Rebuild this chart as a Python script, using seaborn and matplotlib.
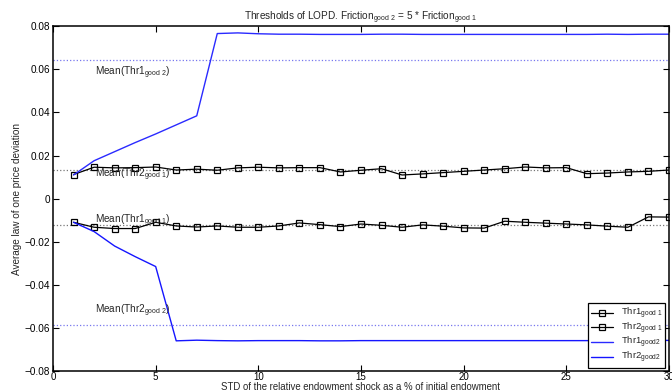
import numpy as np
import pandas as pd
import matplotlib
matplotlib.use('Agg')
import matplotlib.pyplot as plt
import seaborn as sns
from matplotlib.ticker import FuncFormatter

# ---------------- data ----------------
std_pct = list(range(1, 31))

thr1_good1 = [-0.0109, -0.0132, -0.0138, -0.0138, -0.0109, -0.0126, -0.0131, -0.0126, -0.0132, -0.0132,
              -0.0126, -0.0112, -0.0120, -0.0129, -0.0117, -0.0123, -0.0132, -0.0121, -0.0127, -0.0135,
              -0.0136, -0.0104, -0.0109, -0.0113, -0.0117, -0.0121, -0.0127, -0.0132, -0.0084, -0.0085]

thr2_good1 = [0.0112, 0.0146, 0.0143, 0.0144, 0.0147, 0.0133, 0.0137, 0.0132, 0.0143, 0.0146,
              0.0143, 0.0144, 0.0144, 0.0124, 0.0132, 0.0139, 0.0110, 0.0115, 0.0121, 0.0127,
              0.0133, 0.0139, 0.0147, 0.0143, 0.0144, 0.0116, 0.0119, 0.0124, 0.0127, 0.0133]

thr1_good2 = [0.0110, 0.0176, 0.0218, 0.0260, 0.0300, 0.0342, 0.0384, 0.0765, 0.0768, 0.0764,
              0.0762, 0.0762, 0.0761, 0.0761, 0.0761, 0.0762, 0.0762, 0.0761, 0.0761, 0.0761,
              0.0761, 0.0761, 0.0761, 0.0761, 0.0761, 0.0761, 0.0762, 0.0761, 0.0762, 0.0762]

thr2_good2 = [-0.0109, -0.0152, -0.0219, -0.0268, -0.0314, -0.0658, -0.0655, -0.0657, -0.0658, -0.0657,
              -0.0657, -0.0657, -0.0658, -0.0658, -0.0657, -0.0657, -0.0657, -0.0657, -0.0657, -0.0657,
              -0.0657, -0.0657, -0.0657, -0.0657, -0.0657, -0.0657, -0.0656, -0.0656, -0.0656, -0.0656]

x_ticks = [0, 5, 10, 15, 20, 25, 30]
y_ticks = [-0.08, -0.06, -0.04, -0.02, 0, 0.02, 0.04, 0.06, 0.08]

title_text = r'Thresholds of LOPD. Friction$_{good\ 2}$ = 5 * Friction$_{good\ 1}$'
x_label = 'STD of the relative endowment shock as a % of initial endowment'
y_label = 'Average law of one price deviation'

# ---------------- style ----------------
sns.set_style('ticks')
plt.rcParams['font.family'] = ['Liberation Sans', 'DejaVu Sans']
plt.rcParams['mathtext.fontset'] = 'custom'
plt.rcParams['mathtext.rm'] = 'Liberation Sans'
plt.rcParams['mathtext.it'] = 'Liberation Sans'
plt.rcParams['mathtext.default'] = 'rm'
FS = 7.2

fig = plt.figure(figsize=(6.72, 3.92), dpi=100)
ax = fig.add_axes([0.0789, 0.0523, 0.9166, 0.8814])

df = pd.DataFrame({'x': std_pct, 'thr1_g1': thr1_good1, 'thr2_g1': thr2_good1,
                   'thr1_g2': thr1_good2, 'thr2_g2': thr2_good2})

blue = '#1515ff'
mk = dict(marker='s', markersize=4, markerfacecolor='none', markeredgecolor='black', markeredgewidth=0.9)

# mean lines (behind)
means = {k: float(np.mean(df[k])) for k in ['thr1_g1', 'thr2_g1', 'thr1_g2', 'thr2_g2']}
ax.plot([0, 30], [means['thr1_g2']] * 2, ls=':', color='#7777ee', lw=0.9)
ax.plot([0, 30], [means['thr2_g2']] * 2, ls=':', color='#7777ee', lw=0.9)
ax.plot([0, 30], [means['thr1_g1']] * 2, ls=':', color='#777777', lw=0.9)
ax.plot([0, 30], [means['thr2_g1']] * 2, ls=':', color='#777777', lw=0.9)

sns.lineplot(data=df, x='x', y='thr1_g1', ax=ax, color='black', lw=0.9,
             label=r'Thr1$_{good\ 1}$', **mk)
sns.lineplot(data=df, x='x', y='thr2_g1', ax=ax, color='black', lw=0.9,
             label=r'Thr2$_{good\ 1}$', **mk)
sns.lineplot(data=df, x='x', y='thr1_g2', ax=ax, color='#2a2aff', lw=1.0,
             label=r'Thr1$_{good2}$')
sns.lineplot(data=df, x='x', y='thr2_g2', ax=ax, color=blue, lw=1.0,
             label=r'Thr2$_{good2}$')

# mean labels
tx = 2.05
ax.text(tx, means['thr1_g2'] - 0.0062, r'Mean(Thr1$_{good\ 2}$)', fontsize=FS, va='center', ha='left')
ax.text(tx, means['thr2_g1'] - 0.0022, r'Mean(Thr2$_{good\ 1}$)', fontsize=FS, va='center', ha='left')
ax.text(tx, means['thr1_g1'] + 0.0020, r'Mean(Thr1$_{good\ 1}$)', fontsize=FS, va='center', ha='left')
ax.text(tx, means['thr2_g2'] + 0.0066, r'Mean(Thr2$_{good\ 2}$)', fontsize=FS, va='center', ha='left')

ax.set_xlim(0, 30)
ax.set_ylim(-0.08, 0.08)
ax.set_xticks(x_ticks)
ax.set_yticks(y_ticks)
ax.yaxis.set_major_formatter(FuncFormatter(lambda v, p: '0' if abs(v) < 1e-9 else ('%.2f' % v).replace('-', '\u2212')))
ax.tick_params(direction='in', length=4, width=0.8, labelsize=FS, top=True, right=True,
               colors='black', pad=2)
ax.tick_params(axis='x', pad=0.6, labelsize=7)
for s in ax.spines.values():
    s.set_visible(True)
    s.set_linewidth(1.1)
    s.set_color('black')

ax.set_xlabel(x_label, fontsize=6.9, labelpad=-0.2)
ax.set_ylabel(y_label, fontsize=FS, labelpad=2)
ax.set_title(title_text, fontsize=FS, pad=4)

leg = ax.legend(loc='lower right', fontsize=6.8, frameon=True, fancybox=False,
                edgecolor='black', framealpha=1, handlelength=2.4, labelspacing=-0.05,
                borderpad=0.3, borderaxespad=0.4, handletextpad=0.8, handleheight=0.4)
leg.get_frame().set_linewidth(0.9)

fig.savefig('out.png', dpi=100)
